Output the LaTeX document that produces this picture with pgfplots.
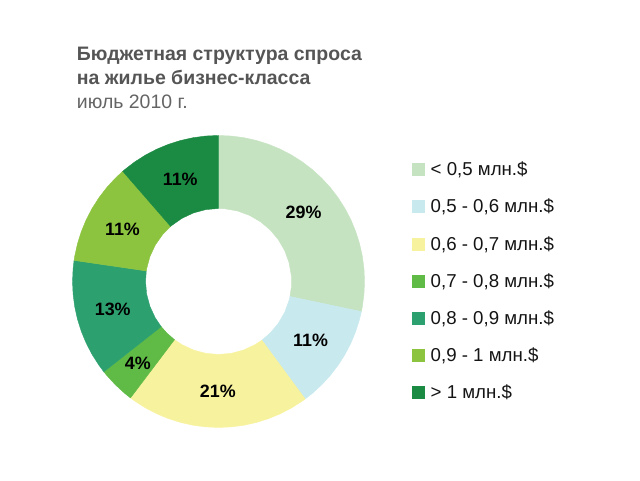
\documentclass[border=0pt]{standalone}
\usepackage{fontspec}
\setmainfont{Liberation Sans}
\usepackage{pgfplots}
\pgfplotsset{compat=1.18}
\usepgfplotslibrary{polar}
\definecolor{c1}{RGB}{197,227,193}
\definecolor{c2}{RGB}{200,233,238}
\definecolor{c3}{RGB}{247,242,158}
\definecolor{c4}{RGB}{95,186,70}
\definecolor{c5}{RGB}{45,160,111}
\definecolor{c6}{RGB}{140,196,64}
\definecolor{c7}{RGB}{27,139,67}
\definecolor{titlegray}{RGB}{85,85,85}
\definecolor{subgray}{RGB}{100,100,100}
\definecolor{legtext}{RGB}{20,20,20}
\begin{document}
\begin{tikzpicture}
\path[use as bounding box] (0,0) rectangle (480pt,360pt);
\node[anchor=base west, inner sep=0pt, text=titlegray, font=\bfseries\fontsize{14.6}{17}\selectfont] at (57.5pt,314.5pt) {Бюджетная структура спроса};
\node[anchor=base west, inner sep=0pt, text=titlegray, font=\bfseries\fontsize{14.6}{17}\selectfont] at (57.5pt,296.8pt) {на жилье бизнес-класса};
\node[anchor=base west, inner sep=0pt, text=subgray, font=\fontsize{14.6}{17}\selectfont] at (57.5pt,278.8pt) {июль 2010 г.};
\begin{polaraxis}[
  at={(163.9pt,148.9pt)}, anchor=center,
  width=219pt, height=219pt, scale only axis,
  xmin=0, xmax=360, ymin=0, ymax=1,
  hide axis, grid=none, xtick=\empty, ytick=\empty, clip=false,
  legend cell align=left,
  legend image code/.code={\fill[#1] (0pt,-3.2pt) rectangle (9pt,5.8pt);},
  legend style={at={(1.1627,0.9086)}, anchor=north west, draw=none, fill=none,
    inner sep=0pt, row sep=14.9pt, text=legtext,
    font=\fontsize{14}{16}\selectfont,
    nodes={inner sep=0pt, text height=10pt, text depth=3pt},
    /tikz/every odd column/.append style={column sep=4.5pt}},
]
\addplot[fill=c1, draw=c1, line width=0.3pt] coordinates {
(90,1) (85,1) (80,1) (75,1) (70,1) (65,1) (60,1) (55,1) (50,1) (45,1) (40,1) (35,1) (30,1) (25,1) (20,1) (15,1) (10,1) (5,1) (0,1) (-5,1) (-10,1) (-11.9,1)
(-11.9,0.5) (-5,0.5) (5,0.5) (15,0.5) (25,0.5) (35,0.5) (45,0.5) (55,0.5) (65,0.5) (75,0.5) (85,0.5) (90,0.5)} -- cycle;
\addlegendentry{< 0,5 млн.\$}
\addplot[fill=c2, draw=c2, line width=0.3pt] coordinates {
(-11.9,1) (-15,1) (-20,1) (-25,1) (-30,1) (-35,1) (-40,1) (-45,1) (-50,1) (-53.6,1)
(-53.6,0.5) (-45,0.5) (-35,0.5) (-25,0.5) (-15,0.5) (-11.9,0.5)} -- cycle;
\addlegendentry{0,5 - 0,6 млн.\$}
\addplot[fill=c3, draw=c3, line width=0.3pt] coordinates {
(-53.6,1) (-55,1) (-60,1) (-65,1) (-70,1) (-75,1) (-80,1) (-85,1) (-90,1) (-95,1) (-100,1) (-105,1) (-110,1) (-115,1) (-120,1) (-125,1) (-127.1,1)
(-127.1,0.5) (-120,0.5) (-110,0.5) (-100,0.5) (-90,0.5) (-80,0.5) (-70,0.5) (-60,0.5) (-53.6,0.5)} -- cycle;
\addlegendentry{0,6 - 0,7 млн.\$}
\addplot[fill=c4, draw=c4, line width=0.3pt] coordinates {
(-127.1,1) (-130,1) (-135,1) (-140,1) (-141.8,1)
(-141.8,0.5) (-135,0.5) (-127.1,0.5)} -- cycle;
\addlegendentry{0,7 - 0,8 млн.\$}
\addplot[fill=c5, draw=c5, line width=0.3pt] coordinates {
(-141.8,1) (-145,1) (-150,1) (-155,1) (-160,1) (-165,1) (-170,1) (-175,1) (-180,1) (-185,1) (-188.3,1)
(-188.3,0.5) (-180,0.5) (-170,0.5) (-160,0.5) (-150,0.5) (-141.8,0.5)} -- cycle;
\addlegendentry{0,8 - 0,9 млн.\$}
\addplot[fill=c6, draw=c6, line width=0.3pt] coordinates {
(-188.3,1) (-190,1) (-195,1) (-200,1) (-205,1) (-210,1) (-215,1) (-220,1) (-225,1) (-229,1)
(-229,0.5) (-220,0.5) (-210,0.5) (-200,0.5) (-190,0.5) (-188.3,0.5)} -- cycle;
\addlegendentry{0,9 - 1 млн.\$}
\addplot[fill=c7, draw=c7, line width=0.3pt] coordinates {
(-229,1) (-230,1) (-235,1) (-240,1) (-245,1) (-250,1) (-255,1) (-260,1) (-265,1) (-270,1)
(-270,0.5) (-260,0.5) (-250,0.5) (-240,0.5) (-230,0.5) (-229,0.5)} -- cycle;
\addlegendentry{> 1 млн.\$}
\addplot[draw=none, mark=none, forget plot, nodes near coords, point meta=explicit symbolic,
  nodes near coords style={anchor=center, text=black, font=\bfseries\fontsize{13.4}{15}\selectfont}]
  coordinates {(39.05,0.75) [29\%] (-32.75,0.75) [11\%] (-90.35,0.75) [21\%] (-134.45,0.79) [4\%]
  (-165.05,0.75) [13\%] (-208.65,0.75) [11\%] (-249.5,0.75) [11\%]};
\end{polaraxis}
\end{tikzpicture}
\end{document}
